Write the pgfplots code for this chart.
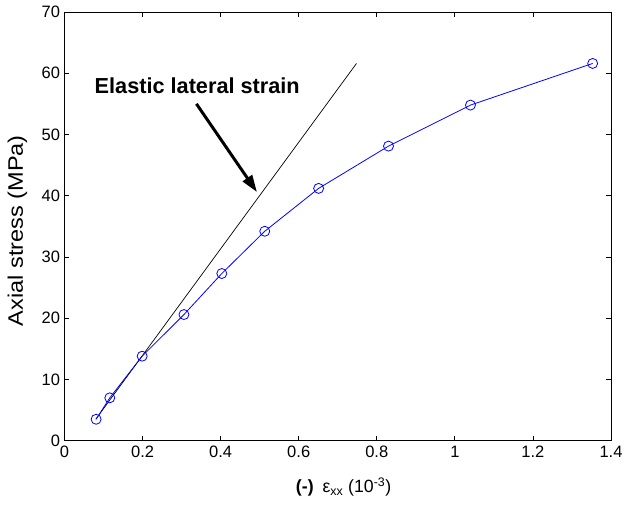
\documentclass[border=0pt]{standalone}
\usepackage{pgfplots}
\pgfplotsset{compat=1.18}
\usepackage{fontspec}
\setmainfont{Liberation Sans}
\usetikzlibrary{arrows.meta}

\begin{document}
\begin{tikzpicture}[x=1pt,y=1pt]
  % page frame: axis box sits at (0,0)--(546.5,428.7)
  \useasboundingbox (-64.5,-66.3) rectangle (561.5,440.7);
  \begin{axis}[
    at={(0,0)}, anchor=south west,
    scale only axis,
    width=546.5pt, height=428.7pt,
    xmin=0, xmax=1.4, ymin=0, ymax=70,
    xtick={0,0.2,...,1.4},
    ytick={0,10,...,70},
    xticklabels={0,0.2,0.4,0.6,0.8,1,1.2,1.4},
    tick pos=both, tick align=inside,
    major tick length=5pt,
    axis line style={line width=1pt},
    every tick/.style={black, line width=0.8pt},
    tick label style={font=\fontsize{16.5}{19}\selectfont},
    /pgf/number format/assume math mode=true,
    xticklabel style={yshift=-2pt},
    yticklabel style={xshift=-1pt},
    clip=false,
  ]
    % elastic (linear) reference line
    \addplot[black, line width=0.7pt] coordinates {(0.08,3.5) (0.748,61.6)};
    % measured lateral strain
    \addplot[blue, line width=0.8pt, mark=o,
             mark options={line width=0.8pt}, mark size=5pt]
      coordinates {
        (0.081,3.5) (0.116,7.0) (0.199,13.8) (0.306,20.6) (0.403,27.3)
        (0.513,34.2) (0.651,41.2) (0.830,48.1) (1.040,54.8) (1.353,61.6)
      };
    \node[font=\fontsize{21.7}{25}\selectfont\bfseries] at (axis cs:0.340,58.0)
      {Elastic lateral strain};
    \draw[line width=3pt, -{Triangle[length=17pt,width=11pt]}]
      (axis cs:0.338,55.0) -- (axis cs:0.493,40.6);
    \node[anchor=base, font=\fontsize{17.7}{21}\selectfont]
      at (axis cs:0.715,0) [yshift=-52pt]
      {\textbf{(-)}\enspace ε\textsubscript{xx} (10\textsuperscript{-3})};
    \node[xshift=-47pt, rotate=90, xscale=1.12, font=\fontsize{21}{25}\selectfont]
      at (axis description cs:0,0.49)
      {Axial stress (MPa)};
  \end{axis}
\end{tikzpicture}
\end{document}
